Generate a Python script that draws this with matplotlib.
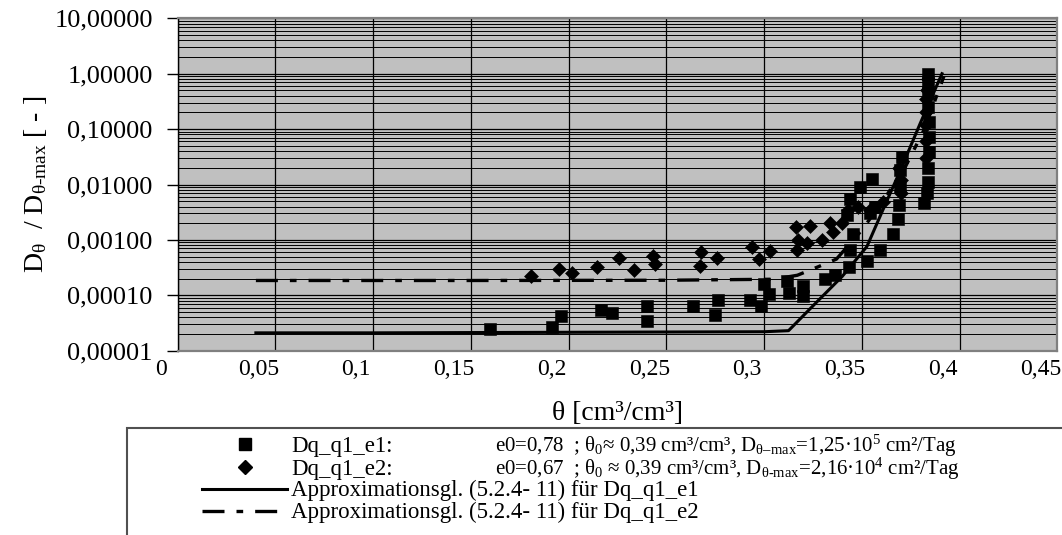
import matplotlib
matplotlib.use("Agg")
import matplotlib.pyplot as plt
from matplotlib.lines import Line2D
from matplotlib.patches import Rectangle
from matplotlib.ticker import FixedLocator, FuncFormatter, LogLocator, NullFormatter
import matplotlib.transforms as mtransforms

plt.rcParams['font.family'] = ['Liberation Serif', 'DejaVu Serif']
plt.rcParams['mathtext.fontset'] = 'custom'
plt.rcParams['mathtext.rm'] = 'Liberation Serif'
plt.rcParams['mathtext.it'] = 'Liberation Serif:italic'
plt.rcParams['mathtext.bf'] = 'Liberation Serif:bold'

# measured points, series Dq_q1_e1 (squares)
theta_e1 = [0.160, 0.1914, 0.196, 0.2166, 0.2224, 0.2403, 0.2403, 0.2634, 0.2764, 0.275,
            0.2929, 0.2985, 0.300, 0.3026, 0.3117, 0.3125, 0.320, 0.320, 0.3313, 0.3364,
            0.3432, 0.3441, 0.3457, 0.3424, 0.344, 0.349, 0.3552, 0.3526, 0.3594, 0.3543,
            0.3569, 0.3659, 0.3685, 0.369, 0.3697, 0.3697, 0.3705, 0.3816, 0.3832, 0.3836,
            0.3836, 0.3846, 0.3846, 0.3846, 0.3841, 0.3841, 0.3841, 0.3841]
D_e1 = [2.5e-5, 2.67e-5, 4.15e-5, 5.5e-5, 4.8e-5, 6.3e-5, 3.5e-5, 6.3e-5, 8.3e-5, 4.5e-5,
        8.3e-5, 6.3e-5, 1.6e-4, 1.06e-4, 1.8e-4, 1.1e-4, 1.5e-4, 9.8e-5, 2.0e-4, 2.3e-4,
        3.3e-4, 6.6e-4, 1.3e-3, 2.8e-3, 5.5e-3, 9.0e-3, 1.28e-2, 4.1e-4, 6.6e-4, 3.0e-3,
        4.0e-3, 1.27e-3, 2.4e-3, 4.3e-3, 9.1e-3, 1.8e-2, 3.16e-2, 4.6e-3, 6.9e-3, 1.1e-2,
        1.95e-2, 3.9e-2, 7.2e-2, 0.135, 0.25, 0.44, 0.67, 1.0]

# measured points, series Dq_q1_e2 (diamonds)
theta_e2 = [0.181, 0.195, 0.2015, 0.2147, 0.226, 0.2334, 0.2434, 0.2441, 0.2677, 0.2671,
            0.276, 0.294, 0.2973, 0.3031, 0.3164, 0.3236, 0.3171, 0.322, 0.3168, 0.3296,
            0.3338, 0.3355, 0.3398, 0.343, 0.348, 0.3543, 0.361, 0.370, 0.370, 0.369,
            0.383, 0.383, 0.383, 0.3826, 0.3826, 0.3835, 0.384]
D_e2 = [2.2e-4, 3.0e-4, 2.5e-4, 3.2e-4, 4.8e-4, 2.85e-4, 5.2e-4, 3.6e-4, 6.0e-4, 3.4e-4,
        4.8e-4, 7.6e-4, 4.5e-4, 6.2e-4, 1.74e-3, 1.8e-3, 1.0e-3, 8.7e-4, 6.6e-4, 1.0e-3,
        2.0e-3, 1.4e-3, 2.0e-3, 3.5e-3, 4.0e-3, 3.5e-3, 4.9e-3, 7.0e-3, 1.2e-2, 2.0e-2,
        3.0e-2, 6.0e-2, 0.12, 0.2, 0.35, 0.5, 0.8]

# approximation curves (5.2.4-11)
fit_theta_e1 = [0.04, 0.10, 0.20, 0.30, 0.3125, 0.326, 0.340, 0.3526, 0.3611, 0.370, 0.380, 0.391]
fit_D_e1 = [2.1e-5, 2.1e-5, 2.15e-5, 2.2e-5, 2.3e-5, 7.0e-5, 2.2e-4, 7.6e-4, 3.7e-3, 0.019, 0.13, 1.0]
fit_theta_e2 = [0.04, 0.15, 0.25, 0.305, 0.317, 0.327, 0.337, 0.35, 0.361, 0.372, 0.382, 0.392]
fit_D_e2 = [1.85e-4, 1.85e-4, 1.87e-4, 1.95e-4, 2.3e-4, 3.2e-4, 4.5e-4, 1.5e-3, 5.2e-3, 0.02, 0.1, 0.9]

x_ticks = [0, 0.05, 0.1, 0.15, 0.2, 0.25, 0.3, 0.35, 0.4, 0.45]
y_ticks = [1e-5, 1e-4, 1e-3, 1e-2, 1e-1, 1, 10]

W, H = 1062, 535
fig = plt.figure(figsize=(W / 100, H / 100), dpi=100)
ax = fig.add_axes([177.7 / W, 1 - 350.7 / H, (1057.3 - 177.7) / W, (350.7 - 18.3) / H])
ax.set_facecolor('#C0C0C0')

dashdot = (0, (6.6, 3.6, 2.0, 3.6))
ax.plot(fit_theta_e1, fit_D_e1, color='black', lw=2.2, zorder=3)
ax.plot(fit_theta_e2, fit_D_e2, color='black', lw=2.4, ls=dashdot, zorder=3)
ax.plot(theta_e1, D_e1, 's', color='black', ms=8.2, mew=0.4, zorder=4)
ax.plot(theta_e2, D_e2, 'D', color='black', ms=7.0, mew=0.4, zorder=4)

ax.set_yscale('log')
ax.set_xlim(0, 0.45)
ax.set_ylim(1e-5, 10)

ax.xaxis.set_major_locator(FixedLocator(x_ticks))
ax.xaxis.set_major_formatter(FuncFormatter(lambda v, p: ('%g' % v).replace('.', ',')))
ax.yaxis.set_major_locator(FixedLocator(y_ticks))
ax.yaxis.set_minor_locator(LogLocator(base=10, subs=range(2, 10), numticks=20))
ax.yaxis.set_minor_formatter(NullFormatter())
ax.yaxis.set_major_formatter(FuncFormatter(lambda v, p: ('%.5f' % v).replace('.', ',')))

ax.tick_params(axis='x', length=0, pad=6, labelsize=17)
ax.tick_params(axis='y', which='major', length=8, width=1, direction='out', pad=10, labelsize=19)
ax.tick_params(axis='y', which='minor', length=0)
# the x tick labels sit a bit left of their gridlines in the original
shift = mtransforms.ScaledTranslation(-17 / 100, 0, fig.dpi_scale_trans)
for lab in ax.get_xticklabels():
    lab.set_transform(lab.get_transform() + shift)

ax.grid(True, which='major', axis='both', color='black', lw=0.9)
ax.grid(True, which='minor', axis='y', color='black', lw=0.7)
ax.set_axisbelow(True)

for side in ['top', 'right', 'bottom']:
    ax.spines[side].set_color('#808080')
    ax.spines[side].set_linewidth(1.6)
ax.spines['left'].set_color('black')
ax.spines['left'].set_linewidth(1.0)

ax.set_ylabel(r'D$_{\mathrm{θ}}$  / D$_{\mathrm{θ‐max}}$ [ - ]', fontsize=20, labelpad=4)
fig.text(617.5 / W, 1 - 414 / H, 'θ [cm³/cm³]', fontsize=20, ha='center', va='center')

# legend box (cut off by the figure edge like the original)
fig.add_artist(Rectangle((127 / W, -0.05), 1.0, 1 - 427.7 / H + 0.05, transform=fig.transFigure,
                         facecolor='none', edgecolor='#505050', lw=1.5))

fs_leg = 16.5
base = [452, 474.5, 496, 518]
mid = [443.5, 466.5, 488.5, 510.5]
fig.add_artist(Line2D([245 / W], [1 - mid[0] / H], marker='s', ms=8.2, color='black',
                      transform=fig.transFigure))
fig.add_artist(Line2D([245 / W], [1 - mid[1] / H], marker='D', ms=7.0, color='black',
                      transform=fig.transFigure))
fig.add_artist(Line2D([201.7 / W, 286.7 / W], [1 - mid[2] / H] * 2, lw=2.2, color='black',
                      transform=fig.transFigure))
fig.add_artist(Line2D([201.7 / W, 286.7 / W], [1 - mid[3] / H] * 2, lw=2.4, ls=dashdot,
                      color='black', transform=fig.transFigure))

labels = ['Dq_q1_e1:', 'Dq_q1_e2:',
          'Approximationsgl. (5.2.4- 11) für Dq_q1_e1',
          'Approximationsgl. (5.2.4- 11) für Dq_q1_e2']
for lab, yb in zip(labels, base):
    fig.text(291 / W, 1 - yb / H, lab, fontsize=fs_leg, va='baseline', ha='left')
fig.text(495 / W, 1 - base[0] / H,
         r'e0=0,78  ; θ$_{\mathrm{0}}$≈ 0,39 cm³/cm³, D$_{\mathrm{θ–max}}$=1,25·10$^{\mathrm{5}}$ cm²/Tag',
         fontsize=15, va='baseline', ha='left')
fig.text(495 / W, 1 - base[1] / H,
         r'e0=0,67  ; θ$_{\mathrm{0}}$ ≈ 0,39 cm³/cm³, D$_{\mathrm{θ‐max}}$=2,16·10$^{\mathrm{4}}$ cm²/Tag',
         fontsize=15, va='baseline', ha='left')

fig.savefig('out.png', dpi=100)
